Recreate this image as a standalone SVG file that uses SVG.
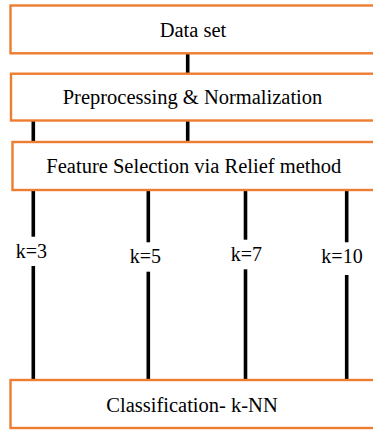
<svg xmlns="http://www.w3.org/2000/svg" width="373" height="430" viewBox="0 0 373 430">
  <style>
    .box { fill: #ffffff; stroke: #ED7D31; stroke-width: 2.4; }
    .lbl { font-family: 'Liberation Serif', 'Times New Roman', 'DejaVu Serif', serif; font-size: 20.5px; fill: #000000; text-anchor: middle; }
    .klbl { font-family: 'Liberation Serif', 'Times New Roman', 'DejaVu Serif', serif; font-size: 20px; fill: #000000; text-anchor: middle; }
    .wire { stroke: #000000; stroke-width: 3.6; fill: none; }
  </style>
  <rect width="373" height="430" fill="#ffffff"/>

  <!-- vertical links between the stages; the four k branches break around their labels -->
  <g id="connectors">
    <line class="wire" x1="187.7" y1="53" x2="187.7" y2="74"/>
    <line class="wire" x1="33.3" y1="120.5" x2="33.3" y2="142"/>
    <line class="wire" x1="187.7" y1="120.5" x2="187.7" y2="142"/>
    <line class="wire" x1="33.3" y1="190" x2="33.3" y2="236.7"/>
    <line class="wire" x1="33.3" y1="266" x2="33.3" y2="380"/>
    <line class="wire" x1="148.3" y1="190" x2="148.3" y2="242.3"/>
    <line class="wire" x1="148.3" y1="271.7" x2="148.3" y2="380"/>
    <line class="wire" x1="245.5" y1="190" x2="245.5" y2="239.7"/>
    <line class="wire" x1="245.5" y1="269.3" x2="245.5" y2="380"/>
    <line class="wire" x1="346.7" y1="190" x2="346.7" y2="242.3"/>
    <line class="wire" x1="346.7" y1="275" x2="346.7" y2="380"/>
    <text class="klbl" x="31.3" y="258.3">k=3</text>
    <text class="klbl" x="145.3" y="262.7">k=5</text>
    <text class="klbl" x="246.3" y="261">k=7</text>
    <text class="klbl" x="342" y="262.7">k=10</text>
  </g>

  <g id="dataset">
    <rect class="box" x="10.5" y="5.5" width="372" height="47.8"/>
    <text class="lbl" x="193" y="36.7">Data set</text>
  </g>

  <g id="preprocessing">
    <rect class="box" x="11" y="73.7" width="372" height="46.8"/>
    <text class="lbl" x="192.5" y="104.3">Preprocessing &amp; Normalization</text>
  </g>

  <g id="feature-selection">
    <rect class="box" x="12.5" y="142" width="372" height="48"/>
    <text class="lbl" x="193.8" y="172.7">Feature Selection via Relief method</text>
  </g>

  <g id="classification">
    <rect class="box" x="10.5" y="380" width="372" height="48"/>
    <text class="lbl" x="192" y="411.7">Classification- k-NN</text>
  </g>
</svg>
